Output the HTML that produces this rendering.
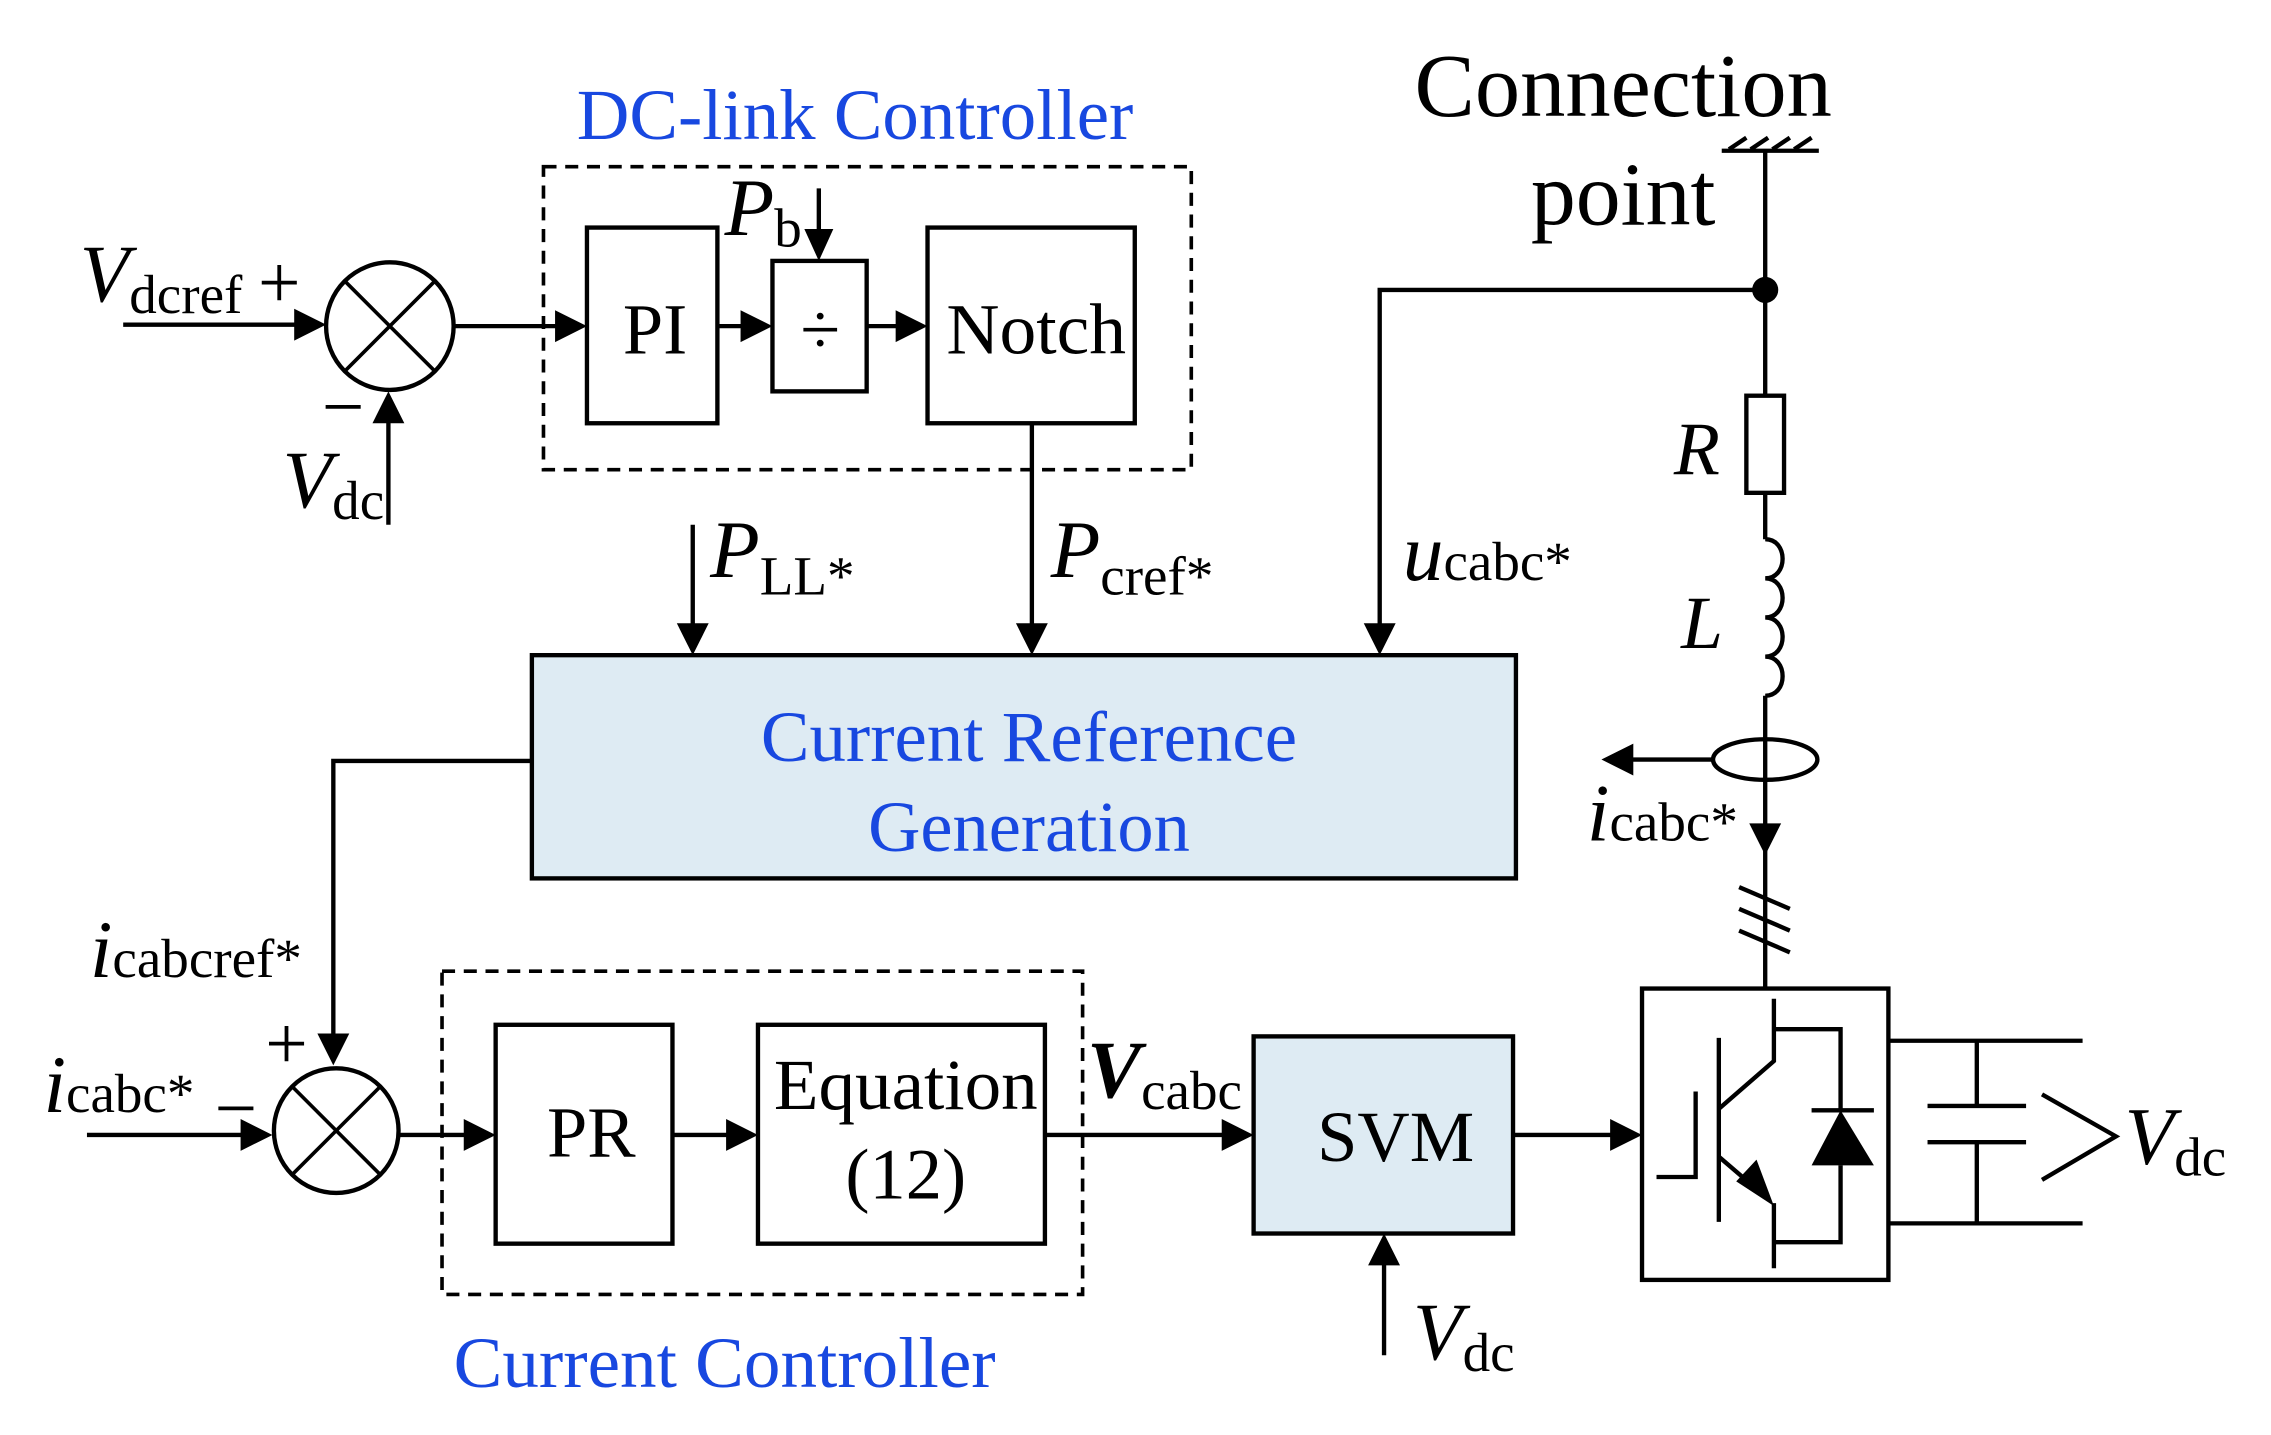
<!DOCTYPE html>
<html><head><meta charset="utf-8"><style>
html,body{margin:0;padding:0;background:#fff;}
svg{display:block;}
text{font-family:"Times New Roman","Liberation Serif",serif;}
.b{fill:#1848e0;}
</style></head><body>
<svg width="2271" height="1435" viewBox="0 0 1567 990" preserveAspectRatio="none" xmlns="http://www.w3.org/2000/svg">
<g stroke="#000" stroke-width="3" fill="none">
<rect x="375" y="115" width="447" height="209" stroke-dasharray="9,6" stroke-width="2.5"/>
<rect x="305" y="670" width="442" height="223" stroke-dasharray="9,6" stroke-width="2.5"/>
<rect x="405" y="157" width="90" height="135"/>
<rect x="533" y="180" width="65" height="90"/>
<rect x="640" y="157" width="143" height="135"/>
<rect x="367" y="452" width="679" height="154" fill="#deebf3"/>
<rect x="342" y="707" width="122" height="151"/>
<rect x="523" y="707" width="198" height="151"/>
<rect x="865" y="715" width="179" height="136" fill="#deebf3"/>
<rect x="1133" y="682" width="170" height="201"/>
<circle cx="269" cy="225" r="44"/>
<line x1="238" y1="194" x2="300" y2="256" stroke-width="2.5"/><line x1="300" y1="194" x2="238" y2="256" stroke-width="2.5"/>
<circle cx="232" cy="780" r="43"/>
<line x1="202" y1="750" x2="262" y2="810" stroke-width="2.5"/><line x1="262" y1="750" x2="202" y2="810" stroke-width="2.5"/>
<line x1="85" y1="224" x2="215" y2="224"/>
<line x1="268" y1="362" x2="268" y2="280"/>
<line x1="313" y1="225" x2="395" y2="225"/>
<line x1="495" y1="225" x2="523" y2="225"/>
<line x1="565" y1="130" x2="565" y2="170"/>
<line x1="598" y1="225" x2="630" y2="225"/>
<line x1="712" y1="292" x2="712" y2="440"/>
<line x1="478" y1="362" x2="478" y2="440"/>
<polyline points="1218,200 952,200 952,440"/>
<polyline points="367,525 230,525 230,725"/>
<line x1="60" y1="783" x2="178" y2="783"/>
<line x1="275" y1="783" x2="332" y2="783"/>
<line x1="464" y1="783" x2="513" y2="783"/>
<line x1="721" y1="783" x2="855" y2="783"/>
<line x1="955" y1="935" x2="955" y2="861"/>
<line x1="1044" y1="783" x2="1123" y2="783"/>
<line x1="1218" y1="105" x2="1218" y2="273"/>
<line x1="1188" y1="104" x2="1255" y2="104"/>
<line x1="1193" y1="103" x2="1205" y2="95"/><line x1="1208" y1="103" x2="1220" y2="95"/><line x1="1223" y1="103" x2="1235" y2="95"/><line x1="1238" y1="103" x2="1250" y2="95"/>
<rect x="1205" y="273" width="26" height="67"/>
<line x1="1218" y1="340" x2="1218" y2="372"/>
<path d="M1218,372 c16,0 16,27 0,27 c16,0 16,27 0,27 c16,0 16,27 0,27 c16,0 16,27 0,27"/>
<line x1="1218" y1="480" x2="1218" y2="575"/>
<ellipse cx="1218" cy="524" rx="36" ry="14"/>
<line x1="1183" y1="524" x2="1120" y2="524"/>
<line x1="1218" y1="585" x2="1218" y2="682"/>
<line x1="1200" y1="612" x2="1235" y2="627"/><line x1="1200" y1="627" x2="1235" y2="642"/><line x1="1200" y1="642" x2="1235" y2="657"/>
<polyline points="1224,689 1224,732 1186,765"/>
<line x1="1186" y1="716" x2="1186" y2="843"/>
<polyline points="1143,812 1170,812 1170,753"/>
<line x1="1186" y1="798" x2="1214" y2="822"/>
<line x1="1224" y1="830" x2="1224" y2="875"/>
<polyline points="1224,710 1270,710 1270,766"/>
<line x1="1250" y1="766" x2="1293" y2="766"/>
<polyline points="1270,804 1270,857 1224,857"/>
<line x1="1303" y1="718" x2="1437" y2="718"/>
<line x1="1303" y1="844" x2="1437" y2="844"/>
<line x1="1364" y1="718" x2="1364" y2="763"/><line x1="1364" y1="788" x2="1364" y2="844"/>
<line x1="1330" y1="763" x2="1398" y2="763"/><line x1="1330" y1="788" x2="1398" y2="788"/>
<polyline points="1409,755 1460,784 1409,814"/>
</g>
<g fill="#000">
<circle cx="1218" cy="200" r="9"/>
<polygon points="1250,804 1293,804 1270,766"/>
<polygon points="1224,832 1198,815 1212,800"/>
<polygon points="225,224 203,213 203,235"/>
<polygon points="268,270 257,292 279,292"/>
<polygon points="405,225 383,214 383,236"/>
<polygon points="533,225 511,214 511,236"/>
<polygon points="565,180 555,158 575,158"/>
<polygon points="640,225 618,214 618,236"/>
<polygon points="712,452 701,430 723,430"/>
<polygon points="478,452 467,430 489,430"/>
<polygon points="952,452 941,430 963,430"/>
<polygon points="230,735 219,713 241,713"/>
<polygon points="188,783 166,772 166,794"/>
<polygon points="342,783 320,772 320,794"/>
<polygon points="523,783 501,772 501,794"/>
<polygon points="865,783 843,772 843,794"/>
<polygon points="955,851 944,873 966,873"/>
<polygon points="1133,783 1111,772 1111,794"/>
<polygon points="1105,524 1127,513 1127,535"/>
<polygon points="1218,590 1207,568 1229,568"/>
</g>
<g font-size="50">
<text x="590" y="96" text-anchor="middle" class="b" font-size="50" textLength="384" lengthAdjust="spacingAndGlyphs">DC-link Controller</text>
<text x="500" y="957" text-anchor="middle" class="b" font-size="50" textLength="374" lengthAdjust="spacingAndGlyphs">Current Controller</text>
<text x="710" y="525" text-anchor="middle" class="b" textLength="370" lengthAdjust="spacingAndGlyphs">Current Reference</text>
<text x="710" y="587" text-anchor="middle" class="b" textLength="222" lengthAdjust="spacingAndGlyphs">Generation</text>
<text x="1120" y="80" text-anchor="middle" font-size="62" textLength="288" lengthAdjust="spacingAndGlyphs">Connection</text>
<text x="1120" y="155" text-anchor="middle" font-size="62">point</text>
<text x="452" y="244" text-anchor="middle">PI</text>
<text x="566" y="244" text-anchor="middle" font-size="50">÷</text>
<text x="715" y="244" text-anchor="middle" textLength="124" lengthAdjust="spacingAndGlyphs">Notch</text>
<text x="408" y="798" text-anchor="middle">PR</text>
<text x="625" y="765" text-anchor="middle" textLength="182" lengthAdjust="spacingAndGlyphs">Equation</text>
<text x="625" y="827" text-anchor="middle">(12)</text>
<text x="963" y="801" text-anchor="middle">SVM</text>
<text x="55" y="208" font-size="56"><tspan font-style="italic">V</tspan><tspan font-size="38" dy="8">dcref</tspan></text>
<text x="178" y="212" font-size="52">+</text>
<text x="222" y="298" font-size="52">−</text>
<text x="195" y="350" font-size="56"><tspan font-style="italic">V</tspan><tspan font-size="38" dy="8">dc</tspan></text>
<text x="500" y="162" font-size="56"><tspan font-style="italic">P</tspan><tspan font-size="38" dy="8">b</tspan></text>
<text x="490" y="398" font-size="56"><tspan font-style="italic">P</tspan><tspan font-size="38" dy="12">LL*</tspan></text>
<text x="725" y="398" font-size="56"><tspan font-style="italic">P</tspan><tspan font-size="38" dy="12">cref*</tspan></text>
<text x="968" y="400" font-size="56"><tspan font-style="italic">u</tspan><tspan font-size="38">cabc*</tspan></text>
<text x="1155" y="327" font-size="52" font-style="italic">R</text>
<text x="1160" y="447" font-size="52" font-style="italic">L</text>
<text x="1095" y="580" font-size="56"><tspan font-style="italic">i</tspan><tspan font-size="38">cabc*</tspan></text>
<text x="62" y="674" font-size="56"><tspan font-style="italic">i</tspan><tspan font-size="38">cabcref*</tspan></text>
<text x="183" y="737" font-size="52">+</text>
<text x="148" y="782" font-size="52">−</text>
<text x="30" y="767" font-size="56"><tspan font-style="italic">i</tspan><tspan font-size="38">cabc*</tspan></text>
<text x="750" y="757" font-size="56"><tspan font-style="italic" font-weight="bold">V</tspan><tspan font-size="38" dy="8">cabc</tspan></text>
<text x="975" y="938" font-size="56"><tspan font-style="italic">V</tspan><tspan font-size="38" dy="8">dc</tspan></text>
<text x="1466" y="803" font-size="56"><tspan font-style="italic">V</tspan><tspan font-size="38" dy="8">dc</tspan></text>
</g>
</svg>
</body></html>
